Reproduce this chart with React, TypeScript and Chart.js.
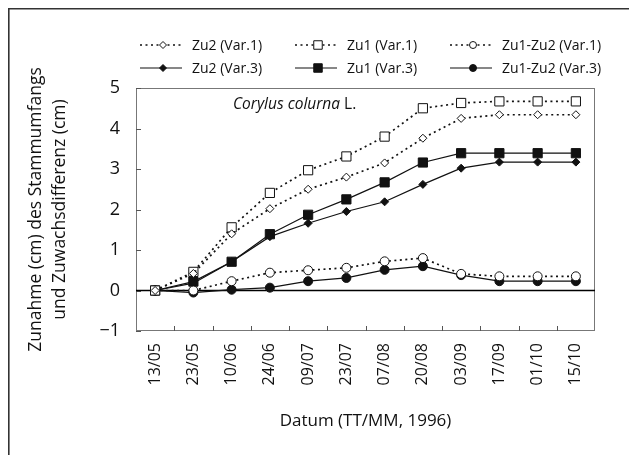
import React, { useEffect, useRef } from 'react';
import { Chart, registerables } from 'chart.js';

Chart.register(...registerables);

const FONT = '"Open Sans", "Noto Sans", sans-serif';

const categories = ['13/05', '23/05', '10/06', '24/06', '09/07', '23/07', '07/08', '20/08', '03/09', '17/09', '01/10', '15/10'];
const zu2Var1 = [0, 0.42, 1.40, 2.02, 2.50, 2.80, 3.15, 3.76, 4.25, 4.34, 4.34, 4.34];
const zu1Var1 = [0, 0.46, 1.56, 2.41, 2.97, 3.31, 3.80, 4.50, 4.63, 4.67, 4.67, 4.67];
const diffVar1 = [0, 0.0, 0.23, 0.44, 0.50, 0.56, 0.72, 0.80, 0.41, 0.35, 0.35, 0.35];
const zu2Var3 = [0, 0.18, 0.71, 1.33, 1.66, 1.95, 2.19, 2.62, 3.02, 3.17, 3.17, 3.17];
const zu1Var3 = [0, 0.22, 0.71, 1.39, 1.87, 2.25, 2.67, 3.16, 3.39, 3.39, 3.39, 3.39];
const diffVar3 = [0, -0.05, 0.02, 0.07, 0.23, 0.31, 0.51, 0.60, 0.38, 0.23, 0.23, 0.23];
const yMin = -1;
const yMax = 5;

const INK = '#111';

function drawMarker(ctx: CanvasRenderingContext2D, style: string, x: number, y: number, r: number, fill: string) {
  ctx.save();
  ctx.beginPath();
  if (style === 'circle') {
    ctx.arc(x, y, r, 0, Math.PI * 2);
  } else if (style === 'rect') {
    const s = r * Math.SQRT1_2;
    ctx.rect(x - s, y - s, 2 * s, 2 * s);
  } else {
    ctx.moveTo(x - r, y);
    ctx.lineTo(x, y - r);
    ctx.lineTo(x + r, y);
    ctx.lineTo(x, y + r);
    ctx.closePath();
  }
  ctx.setLineDash([]);
  ctx.fillStyle = fill;
  ctx.fill();
  ctx.strokeStyle = INK;
  ctx.lineWidth = 1;
  ctx.stroke();
  ctx.restore();
}

const decorPlugin = {
  id: 'decor',
  beforeDatasetsDraw(chart: any) {
    const { ctx, chartArea: a, scales } = chart;
    const x = scales.x;
    const y = scales.y;
    ctx.save();
    ctx.strokeStyle = '#777';
    ctx.lineWidth = 1;
    ctx.strokeRect(a.left + 0.5, a.top + 0.5, a.right - a.left - 1, a.bottom - a.top - 1);
    ctx.strokeStyle = '#555';
    for (let v = yMin; v <= yMax; v++) {
      const py = Math.round(y.getPixelForValue(v)) + 0.5;
      ctx.beginPath();
      ctx.moveTo(a.left, py);
      ctx.lineTo(a.left + 5, py);
      ctx.stroke();
    }
    for (let i = 1; i < categories.length; i++) {
      const px = Math.round((x.getPixelForValue(i - 1) + x.getPixelForValue(i)) / 2) + 0.5;
      ctx.beginPath();
      ctx.moveTo(px, a.bottom);
      ctx.lineTo(px, a.bottom - 5);
      ctx.stroke();
    }
    const zy = y.getPixelForValue(0);
    ctx.strokeStyle = '#000';
    ctx.lineWidth = 1.4;
    ctx.beginPath();
    ctx.moveTo(a.left, zy);
    ctx.lineTo(a.right, zy);
    ctx.stroke();
    ctx.restore();
  },
  afterDraw(chart: any) {
    const { ctx, chartArea: a } = chart;
    ctx.save();
    ctx.strokeStyle = '#333';
    ctx.lineWidth = 1.6;
    ctx.beginPath();
    ctx.moveTo(0.8, chart.height);
    ctx.lineTo(0.8, 0.8);
    ctx.lineTo(chart.width, 0.8);
    ctx.stroke();

    ctx.fillStyle = INK;
    ctx.textBaseline = 'middle';
    ctx.textAlign = 'left';
    const tx = a.left + 97;
    const ty = a.top + 17;
    ctx.font = `italic 15.5px ${FONT}`;
    const italicText = 'Corylus colurna';
    ctx.fillText(italicText, tx, ty);
    const w = ctx.measureText(italicText + ' ').width;
    ctx.font = `15.5px ${FONT}`;
    ctx.fillText('L.', tx + w, ty);

    const cols = [132, 287, 442];
    const rows = [37, 60];
    chart.data.datasets.forEach((ds: any, i: number) => {
      const x0 = cols[i % 3];
      const y0 = rows[Math.floor(i / 3)];
      ctx.save();
      ctx.strokeStyle = INK;
      ctx.lineWidth = ds.borderWidth;
      ctx.setLineDash(ds.borderDash || []);
      ctx.beginPath();
      ctx.moveTo(x0, y0);
      ctx.lineTo(x0 + 42, y0);
      ctx.stroke();
      ctx.restore();
      drawMarker(ctx, ds.pointStyle, x0 + 23, y0, ds.legendRadius, ds.pointBackgroundColor);
      ctx.fillStyle = INK;
      ctx.font = `14px ${FONT}`;
      ctx.textBaseline = 'middle';
      ctx.fillText(ds.label, x0 + 52, y0 + 1);
    });
    ctx.restore();
  },
};

function makeDataset(label: string, data: number[], dashed: boolean, style: string, filled: boolean, radius: number, legendRadius: number) {
  return {
    label,
    data,
    borderColor: INK,
    borderWidth: dashed ? 1.7 : 1.2,
    borderDash: dashed ? [2, 3.5] : [],
    pointStyle: style,
    pointRadius: radius,
    pointBackgroundColor: filled ? INK : '#fff',
    pointBorderColor: INK,
    pointBorderWidth: 1,
    legendRadius,
    tension: 0,
    fill: false,
  };
}

export default function App() {
  const ref = useRef<HTMLCanvasElement>(null);
  useEffect(() => {
    document.documentElement.style.overflow = 'hidden';
    document.body.style.overflow = 'hidden';
    const chart = new Chart(ref.current as HTMLCanvasElement, {
      type: 'line',
      data: {
        labels: categories,
        datasets: [
          makeDataset('Zu2 (Var.1)', zu2Var1, true, 'rectRot', false, 4, 3.5),
          makeDataset('Zu1 (Var.1)', zu1Var1, true, 'rect', false, 6.5, 6),
          makeDataset('Zu1-Zu2 (Var.1)', diffVar1, true, 'circle', false, 4.5, 3.5),
          makeDataset('Zu2 (Var.3)', zu2Var3, false, 'rectRot', true, 4, 3.5),
          makeDataset('Zu1 (Var.3)', zu1Var3, false, 'rect', true, 6.5, 6),
          makeDataset('Zu1-Zu2 (Var.3)', diffVar3, false, 'circle', true, 4.5, 3.5),
        ] as any,
      },
      options: {
        responsive: false,
        animation: false,
        events: [],
        layout: { padding: { left: 0, top: 80, right: 42, bottom: 0 } },
        plugins: { legend: { display: false }, tooltip: { enabled: false } },
        scales: {
          x: {
            type: 'category',
            offset: true,
            grid: { display: false, drawTicks: false },
            border: { display: false },
            ticks: {
              autoSkip: false,
              minRotation: 90,
              maxRotation: 90,
              padding: 12,
              color: INK,
              font: { family: FONT, size: 16 },
            },
            title: {
              display: true,
              text: 'Datum (TT/MM, 1996)',
              color: INK,
              font: { family: FONT, size: 17, lineHeight: 1.5 },
              padding: { top: 0, bottom: 21 },
            },
            afterFit: (s: any) => { s.height = 124; },
          },
          y: {
            min: yMin,
            max: yMax,
            grid: { display: false, drawTicks: false },
            border: { display: false },
            ticks: {
              stepSize: 1,
              padding: 16,
              color: INK,
              font: { family: FONT, size: 18 },
              callback: (v: any) => (Number(v) < 0 ? '\u2212' + Math.abs(Number(v)) : String(v)),
            },
            title: {
              display: true,
              text: ['Zunahme (cm) des Stammumfangs', 'und Zuwachsdifferenz (cm)'],
              color: INK,
              font: { family: FONT, size: 17.5, lineHeight: 1.38 },
              padding: { top: 16, bottom: 0 },
            },
            afterFit: (s: any) => { s.width = 128; },
          },
        },
      },
      plugins: [decorPlugin],
    });
    return () => chart.destroy();
  }, []);
  return <canvas ref={ref} width={629} height={447} style={{ display: 'block' }} />;
}
